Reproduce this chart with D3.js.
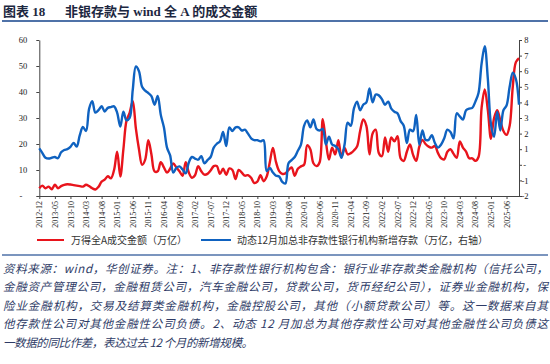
<!DOCTYPE html>
<html><head><meta charset="utf-8">
<script src="https://cdn.jsdelivr.net/npm/d3@7/dist/d3.min.js"></script>
<style>
html,body{margin:0;padding:0;background:#fff;}
svg{display:block;}
</style></head>
<body>
<svg id="chart" width="550" height="364"></svg>
<script>
// ---- DATA ----
const startYear = 2012, startMonth = 12, nMonths = 155;
const categories = [];
for (let i = 0; i < nMonths; i++) {
  const m0 = startMonth - 1 + i;
  const y = startYear + Math.floor(m0 / 12), m = (m0 % 12) + 1;
  categories.push(y + "-" + (m < 10 ? "0" + m : m));
}
const tickLabels = ["2012-12","2013-05","2013-10","2014-03","2014-08","2015-01","2015-06","2015-11",
  "2016-04","2016-09","2017-02","2017-07","2017-12","2018-05","2018-10","2019-03","2019-08","2020-01",
  "2020-06","2020-11","2021-04","2021-09","2022-02","2022-07","2022-12","2023-05","2023-10","2024-03",
  "2024-08","2025-01","2025-06"];
// 万得全A成交金额（万亿） - left axis
const turnover = [
  3,4,3,3.6,2.6,4.3,3,3.8,4.3,4.5,
  4.4,4.2,4,3.8,3.6,4.3,3.8,3,2.5,3.5,
  5.5,6.3,7.6,6.8,10,17,7.5,18,29,32,
  36.5,26,18,12,14,21.5,16,9.5,9.5,13,
  11,9,10.5,12.5,11,9.5,7.8,13,9,7,
  8,11.5,9.5,8.2,8.5,9.8,11.5,11.5,8.5,10.5,
  8.2,10.6,10,6.5,10,9,7.8,8,7,5,
  5.5,8,5.7,7.5,13,18.5,13,9.6,8.5,8.7,
  10,11,7.8,10.5,11.4,12,19.5,18,12.6,11.5,
  13,29.5,21,14,18.6,16,21.5,15,18.5,16,
  16.5,17.5,19,25,29.4,27,16,24,25.5,16.5,
  15.3,22.5,17,22.5,21,23,14.5,13.5,17,19.8,
  15.8,13.5,19,21.6,20,19,18.6,19.2,16.5,14.5,
  14.1,17,18,16.2,14.7,21,18.6,17.1,14.5,14.5,
  13.5,15,34,41,33,22,30,33,29,25,
  23.5,27,42,51.5,53
];
// 动态12月加总非存款性银行机构新增存款（万亿，右轴） - right axis
const nonbankDeposits = [
  1.05,0.75,0.45,0.4,0.45,0.5,0.42,0.8,0.95,1.0,
  1.15,1.4,1.17,1.9,2.42,2.17,3.6,4.08,3.35,3.5,
  3.75,3.42,3.65,3.7,3.75,3.33,2.45,3.4,2.85,3.0,
  4.8,6.3,6.0,5.0,4.75,4.6,4.4,3.85,4.42,3.2,
  2.4,1.1,0.6,-0.5,-0.2,-0.1,-0.3,-0.55,0.15,0.5,
  0.4,0.33,0.55,0.1,0.3,0.5,1.1,1.35,1.5,2.1,
  1.2,2.4,2.17,2.4,2.4,2.2,2.25,2.0,1.7,1.58,
  1.58,1.5,1.58,-0.4,-0.2,-0.5,-0.7,-0.75,-1.1,-1.2,
  0.1,0.3,0.5,0.9,1.3,2.5,2.85,2.4,2.9,2.3,
  2.2,2.3,1.3,1.8,1.3,1.2,1.0,0.45,1.3,2.7,
  2.5,3.6,4.05,3.5,3.85,4.0,4.9,4.0,4.5,4.45,
  4.2,3.85,4.05,3.6,3.4,3.3,2.8,2.5,1.4,2.25,
  2.15,3.2,1.3,2.2,1.6,1.6,1.9,1.4,1.1,1.3,
  1.7,2.25,2.1,1.7,3.3,3.1,2.9,3.5,3.6,3.65,
  4.05,4.6,6.5,7.6,5.5,2.6,1.8,3.4,2.2,3.5,
  3.8,5.0,5.9,5.5,3.85
];
const leftTicks = [0,10,20,30,40,50,60];
const rightTicks = [-2,-1,0,1,2,3,4,5,6,7,8];
const seriesNames = ["万得全A成交金额（万亿）","动态12月加总非存款性银行机构新增存款（万亿，右轴）"];
const titleText = ["图表 18", "非银存款与 wind 全 A 的成交金额"];
const notes = [
  "资料来源：wind，华创证券。注：1、非存款性银行机构包含：银行业非存款类金融机构（信托公司，",
  "金融资产管理公司，金融租赁公司，汽车金融公司，贷款公司，货币经纪公司），证券业金融机构，保",
  "险业金融机构，交易及结算类金融机构，金融控股公司，其他（小额贷款公司）等。这一数据来自其",
  "他存款性公司对其他金融性公司负债。2、动态 12 月加总为其他存款性公司对其他金融性公司负债这",
  "一数据的同比作差，表达过去 12 个月的新增规模。"
];

// ---- DRAW ----
const svg = d3.select("#chart");
const RED = "#e8141c", BLUE = "#0f62c0", HEAD = "#4f72a8";
const serif = "'Times New Roman','Liberation Serif',serif";
const cjk = "'Noto Sans CJK SC','Noto Sans',sans-serif";

svg.append("rect").attr("width",550).attr("height",364).attr("fill","#fff");

// title
const t = svg.append("text").attr("x",3).attr("y",16).attr("font-size",13).attr("font-weight","bold")
  .attr("fill","#1c2740").attr("font-family", serif + "," + cjk);
t.append("tspan").text(titleText[0]);
t.append("tspan").attr("x",65).text(titleText[1]);
svg.append("line").attr("x1",2).attr("x2",548).attr("y1",21).attr("y2",21)
  .attr("stroke",HEAD).attr("stroke-width",2);

const x0 = 39.3, x1 = 519, yTop = 40, yBot = 196;
const x = d3.scalePoint().domain(categories).range([x0, x1]);
const yL = d3.scaleLinear().domain([0,60]).range([yBot, yTop]);
const yR = d3.scaleLinear().domain([-2,8]).range([yBot, yTop]);

// axes
const axColor = "#444";
const gx = svg.append("g").attr("transform",`translate(0,${yBot})`)
  .call(d3.axisBottom(x).tickValues(tickLabels).tickSize(3).tickSizeOuter(0));
gx.select(".domain").attr("d",`M${x0},0.5H${x1}`).attr("stroke",axColor);
gx.selectAll(".tick line").attr("stroke",axColor);
gx.selectAll(".tick text").attr("font-family",serif).attr("font-size",8).attr("fill","#222")
  .attr("transform","rotate(-90)").attr("text-anchor","end").attr("x",-5).attr("y",0).attr("dy","0.32em");

const gl = svg.append("g").attr("transform",`translate(${x0},0)`)
  .call(d3.axisLeft(yL).tickValues(leftTicks).tickSize(3).tickSizeOuter(0)
    .tickFormat(d => d === 0 ? "-" : d));
gl.select(".domain").attr("stroke",axColor);
gl.selectAll(".tick line").attr("stroke",axColor);
gl.selectAll(".tick text").attr("font-family",serif).attr("font-size",8.5).attr("fill","#222")
  .attr("x", d => d === 0 ? -17 : -12);

const gr = svg.append("g").attr("transform",`translate(${x1},0)`)
  .call(d3.axisRight(yR).tickValues(rightTicks).tickSize(3).tickSizeOuter(0)
    .tickFormat(d => d === 0 ? "-" : d));
gr.select(".domain").attr("stroke",axColor);
gr.selectAll(".tick line").attr("stroke",axColor);
gr.selectAll(".tick text").attr("font-family",serif).attr("font-size",8.5).attr("fill","#222")
  .attr("text-anchor","end").attr("x", d => d === 0 ? 7 : 9.5);

// lines
const curve = d3.curveCatmullRom.alpha(0.5);
const lineL = d3.line().x((d,i) => x(categories[i])).y(d => yL(d)).curve(curve);
const lineR = d3.line().x((d,i) => x(categories[i])).y(d => yR(d)).curve(curve);
svg.append("path").datum(turnover).attr("d",lineL).attr("fill","none")
  .attr("stroke",RED).attr("stroke-width",2.4).attr("stroke-linejoin","round");
svg.append("path").datum(nonbankDeposits).attr("d",lineR).attr("fill","none")
  .attr("stroke",BLUE).attr("stroke-width",2.4).attr("stroke-linejoin","round");

// legend
const lg = svg.append("g").attr("font-family",cjk).attr("font-size",10).attr("fill","#333");
lg.append("line").attr("x1",37).attr("x2",64).attr("y1",240).attr("y2",240).attr("stroke",RED).attr("stroke-width",2);
lg.append("text").attr("x",71).attr("y",243.5).text(seriesNames[0]);
lg.append("line").attr("x1",201).attr("x2",231).attr("y1",240).attr("y2",240).attr("stroke",BLUE).attr("stroke-width",2);
lg.append("text").attr("x",237).attr("y",243.5).text(seriesNames[1]);

// notes
svg.append("line").attr("x1",2).attr("x2",548).attr("y1",255).attr("y2",255)
  .attr("stroke",HEAD).attr("stroke-width",1.5);
const nb = [272.5, 291, 309.5, 328, 346.5];
notes.forEach((s,i) => {
  const tx = svg.append("text").attr("x",3).attr("y",nb[i]).attr("font-family",cjk)
    .attr("font-size",11.5).attr("font-style","italic").attr("fill","#2e3b66").text(s);
  tx.attr("textLength", i < 4 ? 545 : 250).attr("lengthAdjust","spacing");
});
</script>
</body></html>
